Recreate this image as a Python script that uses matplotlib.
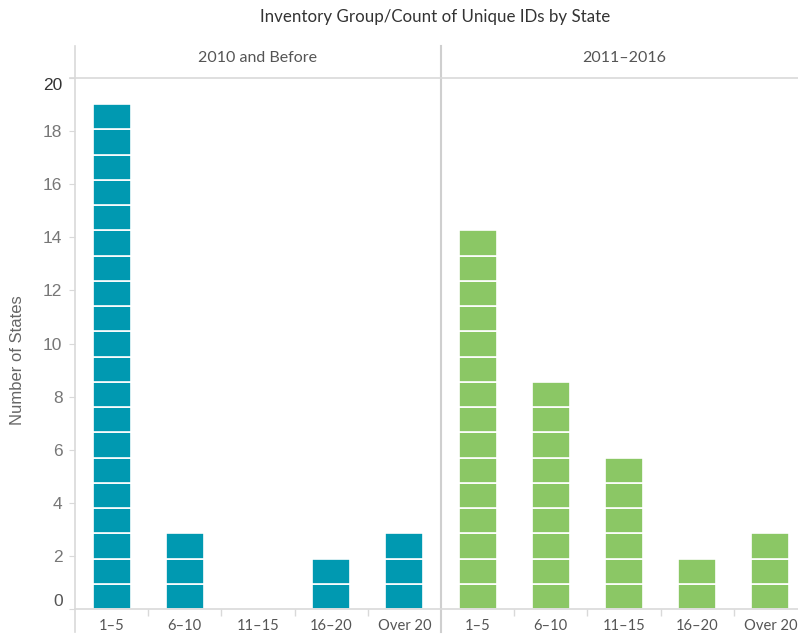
import numpy as np
import matplotlib
matplotlib.use('Agg')
import matplotlib.pyplot as plt
from matplotlib.lines import Line2D

plt.rcParams['font.family'] = ['Lato', 'DejaVu Sans']

# dane
groups = ['1–5', '6–10', '11–15', '16–20', 'Over 20']
panels = ['2010 and Before', '2011–2016']
count_before = [20, 3, 0, 2, 3]
count_after = [15, 9, 6, 2, 3]
colors = ['#0099b1', '#8bc765']
unit = 0.951   # wysokosc jednego stanu na osi (tak jak w oryginale)

W, H = 798, 637
fig = plt.figure(figsize=(W / 100, H / 100), dpi=100)

def fx(px):
    return px / W

def fy(py):
    return 1 - py / H

grey = '#d9d9d9'
txt = '#555555'

top, bottom = 78, 609
lefts = [75, 441]
pw = 366

axes = []
for i, (name, counts) in enumerate(zip(panels, [count_before, count_after])):
    ax = fig.add_axes([fx(lefts[i]), fy(bottom), fx(pw), fy(top) - fy(bottom)])
    x = np.arange(len(groups))
    for xi, c in zip(x, counts):
        for k in range(c):
            ax.bar(xi, unit, bottom=k * unit, width=0.52, color=colors[i],
                   edgecolor='white', linewidth=1.2)
    ax.set_xlim(-0.5, len(groups) - 0.5)
    ax.set_ylim(0, 20)
    for s in ax.spines.values():
        s.set_visible(False)
    ax.set_xticks(x)
    ax.set_xticklabels(groups, fontsize=10.6, color=txt)
    ax.set_xticks(x[:-1] + 0.5, minor=True)
    ax.tick_params(axis='x', which='major', length=0, pad=7)
    ax.tick_params(axis='x', which='minor', length=5, color=grey, width=1)
    if i == 0:
        ax.set_yticks(np.arange(0, 21, 2))
        ax.set_yticklabels([str(v) for v in range(0, 21, 2)],
                           family=['Liberation Sans', 'DejaVu Sans'])
        ax.tick_params(axis='y', length=4, color=grey, labelsize=12.5,
                       labelcolor='#777777', pad=5)
        labs = ax.get_yticklabels()
        labs[0].set_va('bottom')
        labs[-1].set_va('top')
        labs[-1].set_color('#333333')
        labs[0].set_color('#555555')
    else:
        ax.set_yticks([])
    fig.text(fx(lefts[i] + pw / 2), fy(58), name, ha='center', va='center',
             fontsize=11.5, color=txt)
    axes.append(ax)

fig.text(fx(18), fy(360), 'Number of States', rotation=90, ha='center',
         va='center', fontsize=12, color='#666666',
         family=['Liberation Sans', 'DejaVu Sans'])

# linie ramki
fig.add_artist(Line2D([fx(75), fx(75)], [fy(46), fy(632)], color=grey, lw=1.2))
fig.add_artist(Line2D([fx(441), fx(441)], [fy(46), fy(632)], color='#cfcfcf', lw=1.5))
fig.add_artist(Line2D([fx(70), 1], [fy(78), fy(78)], color=grey, lw=1.2))
fig.add_artist(Line2D([fx(75), 1], [fy(609), fy(609)], color=grey, lw=1.2))

fig.text(fx(435), fy(17), 'Inventory Group/Count of Unique IDs by State',
         ha='center', va='center', fontsize=12.2, color='#333333')

fig.savefig('out.png', dpi=100)
